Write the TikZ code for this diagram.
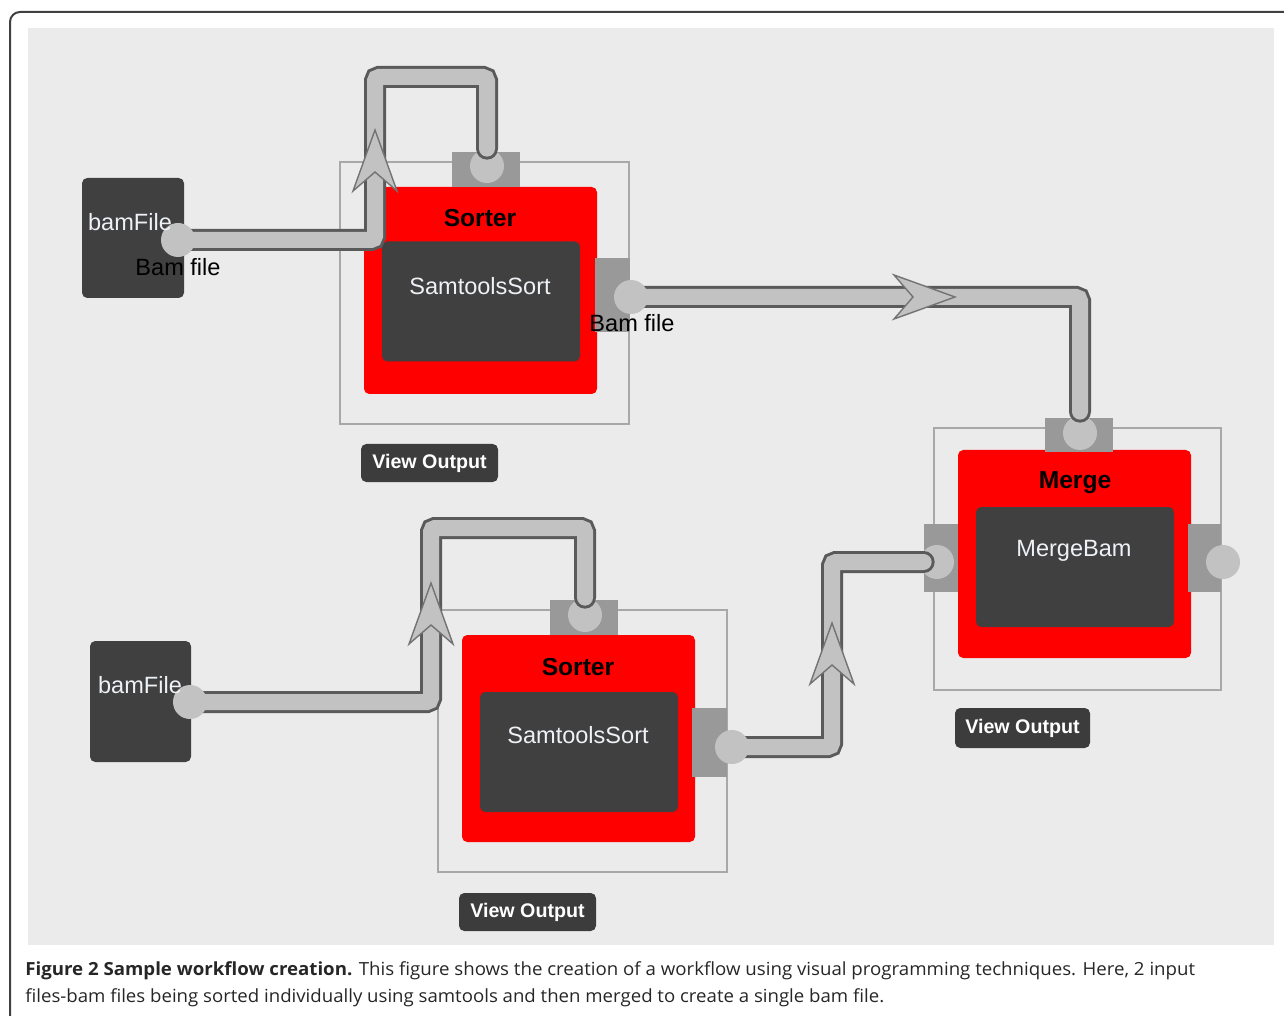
\documentclass[tikz,border=0pt]{standalone}
\usepackage{fontspec}
\usepackage{graphicx}
\setmainfont{Liberation Sans}
\newfontfamily\capfont{Open Sans}
\usetikzlibrary{positioning}

\definecolor{panelgray}{HTML}{EBEBEB}
\definecolor{modgray}{HTML}{404040}
\definecolor{btngray}{HTML}{3C3C3C}
\definecolor{portgray}{HTML}{999999}
\definecolor{knobgray}{HTML}{C2C2C2}
\definecolor{pipeedge}{HTML}{5A5A5A}
\definecolor{framegray}{HTML}{A8A8A8}
\definecolor{wtxt}{HTML}{EEF1F6}

\def\px{0.02cm}
\pgfdeclarelayer{front}
\pgfsetlayers{main,front}

\begin{document}
\begin{tikzpicture}[
    x=0.02cm, y=-0.02cm,
    font=\fontsize{13.4}{16}\selectfont,
    % Styles
    modframe/.style={draw=framegray, line width=1.5*\px, inner sep=0pt, minimum width=289*\px, minimum height=262*\px},
    modbody/.style={fill=red, rounded corners=3pt, inner sep=0pt, minimum width=233*\px, minimum height=207*\px},
    toolbox/.style={fill=modgray, rounded corners=3pt, inner sep=0pt, minimum width=198*\px, minimum height=120*\px},
    filebox/.style={fill=modgray, rounded corners=3pt, inner sep=0pt, minimum width=102*\px, minimum height=120*\px},
    portv/.style={fill=portgray, inner sep=0pt, minimum width=68*\px, minimum height=35*\px},
    porth/.style={fill=portgray, inner sep=0pt, minimum width=35*\px, minimum height=68*\px},
    knob/.style={circle, fill=knobgray, inner sep=0pt, minimum size=34*\px},
    modtitle/.style={font=\bfseries\fontsize{14}{16}\selectfont, inner sep=0pt},
    wtext/.style={text=wtxt, inner sep=0pt},
    pname/.style={text=black, inner sep=0pt},
    btn/.style={fill=btngray, text=white, font=\bfseries\fontsize{11.2}{13}\selectfont, rounded corners=3pt, inner sep=0pt, minimum width=137*\px, minimum height=38*\px},
    pipe/.style={draw=pipeedge, line width=3*\px, double=knobgray, double distance=16*\px, line cap=round, rounded corners=4*\px},
    chevron/.style={fill=knobgray, draw=pipeedge!85, line width=1.4*\px, line join=miter},
    chev/.pic={\path[chevron] (0,-42) -- (22,19) -- (0,0) -- (-22,19) -- cycle;},
    capline/.style={font=\capfont\fontsize{10.3}{12}\selectfont, text=black!85, anchor=west, inner sep=0pt}
]
\clip (0,0) rectangle (1284,1016);

% 0. Page frame and canvas
\draw[black!75, line width=2*\px, rounded corners=10*\px] (10,12) rectangle (1330,1040);
\fill[panelgray] (28,28) rectangle (1274,945);

% 1. Module frames and bodies
\node[modframe] (s1frame) at (484.5,293) {};
\node[modframe] (s2frame) at (582.5,741) {};
\node[modframe, minimum width=287*\px] (mframe) at (1077.5,559) {};

\node[modbody] (s1body) at (480.5,290.5) {};
\node[modbody] (s2body) at (578.5,738.5) {};
\node[modbody, minimum height=208*\px] (mbody) at (1074.5,554) {};

\node[toolbox] (s1tool) at (481,301.5) {};
\node[toolbox] (s2tool) at (579,752) {};
\node[toolbox] (mtool) at (1075,567) {};

\node[filebox] (bam1) at (133,238) {};
\node[filebox, minimum width=101*\px, minimum height=121*\px] (bam2) at (140.5,701.5) {};

% 2. Ports
\node[portv] (s1in) at (486,169.5) {};
\node[porth, minimum height=74*\px] (s1out) at (612.5,295) {};
\node[portv] (s2in) at (583.5,617.5) {};
\node[porth, minimum height=69*\px] (s2out) at (709.5,742.5) {};
\node[portv, minimum height=34*\px] (min) at (1079,435) {};
\node[porth, minimum width=34*\px] (mleft) at (941,558) {};
\node[porth, minimum width=33*\px] (mright) at (1204.5,558) {};

\node[knob] (s1inknob) at (487,166) {};
\node[knob] (s2inknob) at (585,615) {};
\node[knob] (minknob) at (1080,433) {};
\node[knob] (mleftknob) at (937,562) {};

\begin{pgfonlayer}{front}
\node[knob] (bam1knob) at (178,240) {};
\node[knob] (bam2knob) at (190,702) {};
\node[knob] (s1outknob) at (631,297) {};
\node[knob] (s2outknob) at (732,747) {};
\node[knob] (mrightknob) at (1223,562) {};
\end{pgfonlayer}

% 3. Pipes
\coordinate (p1top) at (375,77);
\coordinate (p3top) at (431,528);
\coordinate (p4top) at (832,562);

\draw[pipe] (bam1knob.center) -| (p1top) -| (s1inknob.north);
\draw[pipe] (s1outknob.center) -| ([yshift=4*\px]minknob.north);
\draw[pipe] (bam2knob.center) -| (p3top) -| (s2inknob.north);
\draw[pipe] (s2outknob.center) -| (p4top) -- ([xshift=4*\px]mleftknob.west);

\pic at (375,172) {chev};
\pic[rotate=-90] at (913,297) {chev};
\pic at (431,625) {chev};
\pic at (832,665) {chev};

% 4. Texts
\begin{pgfonlayer}{front}
\node[modtitle] at (480,218) {Sorter};
\node[modtitle] at (578,667) {Sorter};
\node[modtitle] at (1075,483) {Merge};
\node[wtext] at (480,286) {SamtoolsSort};
\node[wtext] at (578,735) {SamtoolsSort};
\node[wtext] at (1074,551) {MergeBam};
\node[wtext] at (130,222) {bamFile};
\node[wtext] at (140,685) {bamFile};
\node[pname] at (178,267) {Bam file};
\node[pname] at (632,323) {Bam file};
\end{pgfonlayer}

\node[btn] (view1) at (429.5,463) {View Output};
\node[btn] (view2) at (527.5,912) {View Output};
\node[btn, minimum width=135*\px, minimum height=40*\px] (view3) at (1022.5,728) {View Output};

% 5. Caption
\node[capline] (cap1) at (25,971) {\resizebox{23.4cm}{\height}{\textbf{Figure 2 Sample workflow creation.} This figure shows the creation of a workflow using visual programming techniques. Here, 2 input}};
\node[capline] (cap2) at (25,998) {\resizebox{17.18cm}{\height}{files-bam files being sorted individually using samtools and then merged to create a single bam file.}};

\end{tikzpicture}
\end{document}
